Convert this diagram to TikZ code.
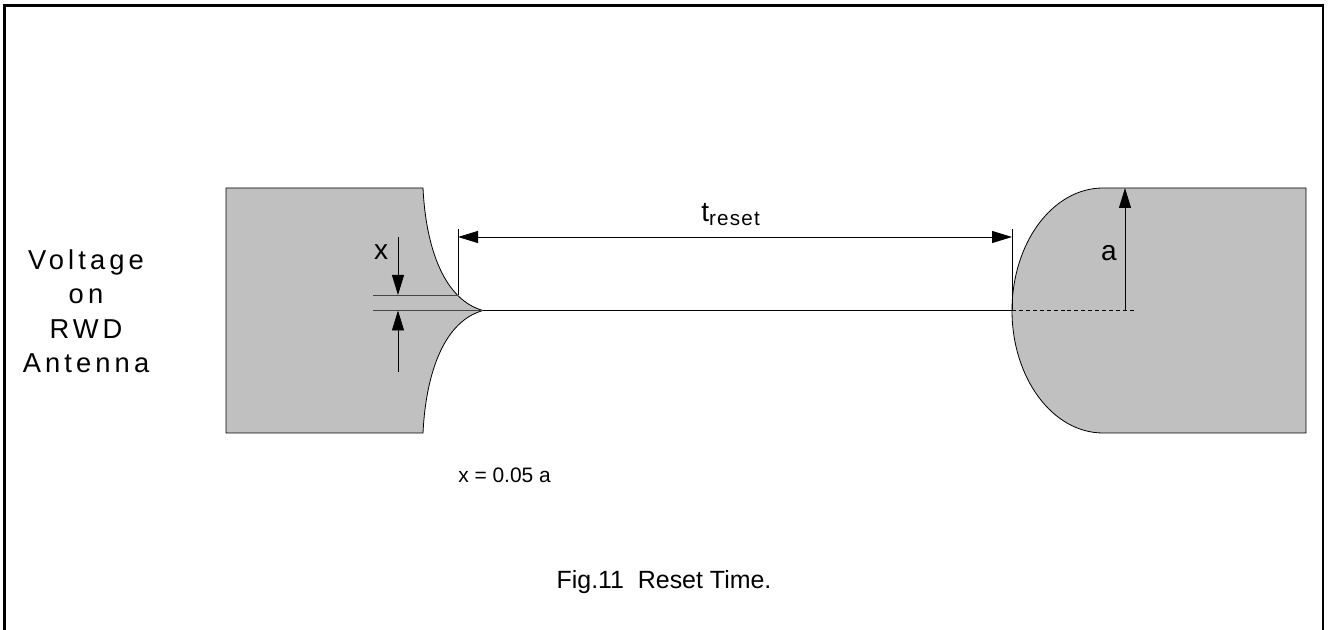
\documentclass[tikz,border=0pt]{standalone}
\usepackage{fontspec}
\setmainfont{Liberation Sans}
\usetikzlibrary{arrows.meta}
\definecolor{shapegray}{RGB}{192,192,192}
\definecolor{dimgray}{RGB}{70,70,70}
\begin{document}
\begin{tikzpicture}[x=0.75pt,y=-0.75pt,
  blockshape/.style={fill=shapegray,draw=black,line width=0.6pt},
  extline/.style={draw=black,line width=0.7pt},
  innerline/.style={draw=dimgray,line width=0.7pt},
  dimarrow/.style={draw=black,line width=0.7pt,-{Triangle[length=15pt,width=9pt]}},
  dimarrows/.style={draw=black,line width=0.7pt,{Triangle[length=15pt,width=9pt]}-{Triangle[length=15pt,width=9pt]}},
  lbl/.style={inner sep=0pt,font=\fontsize{21}{25}\selectfont},
  vlbl/.style={inner sep=0pt,anchor=base,font=\fontsize{20.5}{25}\selectfont\addfontfeature{LetterSpace=15}}]
\useasboundingbox (0,0) rectangle (1328,630);
% frame (open at the bottom edge of the picture)
\draw[line width=2pt] (4.7,640) -- (4.7,5.3) -- (1323,5.3) -- (1323,640);
% left block with concave edge
\draw[blockshape] (226,188) -- (423,188)
  .. controls (426,250) and (445,300) .. (483,310.5)
  .. controls (445,321) and (426,371) .. (423,433)
  -- (226,433) -- cycle;
% right block with elliptic edge
\draw[blockshape] (1103,188) -- (1306,188) -- (1306,433) -- (1103,433)
  arc[start angle=90,end angle=270,x radius=91,y radius=122.5] -- cycle;
% key points
\coordinate (tipL) at (483,310.5);
\coordinate (tipR) at (1012,310.5);
\coordinate (dashEnd) at (1136,310.5);
\coordinate (aBase) at (1125,310.5);
\coordinate (aTop) at (1125,188);
\coordinate (tlTop) at (458,229);
\coordinate (tlBot) at (458,295);
\coordinate (trTop) at (1012,229);
\coordinate (tA) at (458,237);
\coordinate (tB) at (1012,237);
\coordinate (xu) at (373,295);
\coordinate (xd) at (373,310.5);
\coordinate (xaTop) at (398,237);
\coordinate (xaTip) at (398,295);
\coordinate (xbBot) at (398,372);
\coordinate (xbTip) at (398,310.5);
% inner dimension lines of x
\draw[innerline] (xu) -- (tlBot);
\draw[innerline] (xd) -- (tipL);
\draw[dimarrow] (xaTop) -- (xaTip);
\draw[dimarrow] (xbBot) -- (xbTip);
% signal line
\draw[line width=1.3pt] (tipL) -- (tipR);
\draw[line width=1pt,dash pattern=on 3pt off 2.2pt] (tipR) -- (dashEnd);
% t_reset extension lines and arrow
\draw[extline] (tlTop) -- (tlBot);
\draw[extline] (trTop) -- (tipR);
\draw[dimarrows] (tA) -- (tB);
% a arrow
\draw[dimarrow] (aBase) -- (aTop);
% labels
\node[lbl,anchor=base west] (treset) at (701,222) {t\raisebox{-3pt}{\fontsize{15.5}{16}\selectfont\addfontfeature{LetterSpace=6}reset}};
\node[lbl,anchor=base] (xlabel) at (381,260) {x};
\node[lbl,anchor=base] (alabel) at (1109,261) {a};
\node[vlbl] (v1) at (86,270) {Voltage};
\node[vlbl] (v2) at (86,304) {on};
\node[vlbl] (v3) at (86,339) {RWD};
\node[vlbl] (v4) at (86,373) {Antenna};
\node[inner sep=0pt,anchor=base west,font=\fontsize{15.7}{18}\selectfont] (xeq) at (458,483) {x = 0.05 a};
\node[inner sep=0pt,anchor=base,font=\fontsize{18.7}{22}\selectfont] (cap) at (664,588) {Fig.11\ \ Reset Time.};
\end{tikzpicture}
\end{document}
